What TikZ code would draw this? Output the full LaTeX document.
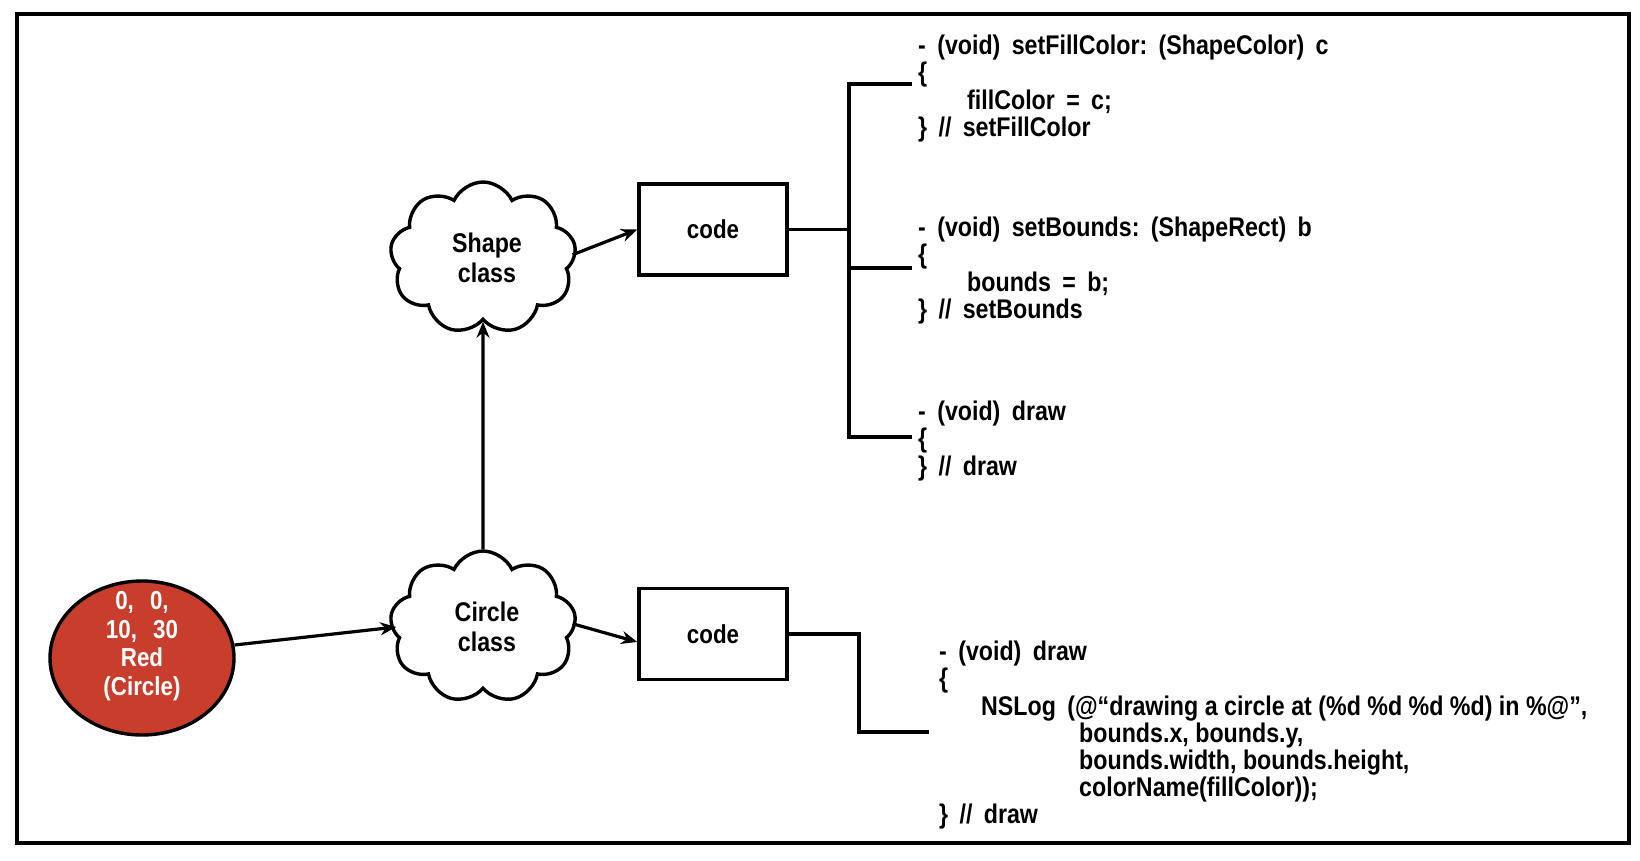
\documentclass[tikz,border=0pt]{standalone}
\usepackage{fontspec}
\setmainfont{Liberation Sans}[UprightFont=* Bold,FakeStretch=0.86]
\usetikzlibrary{shapes.symbols,shapes.geometric,arrows.meta}
\definecolor{circred}{HTML}{C83D2C}
\newcommand\gap{\hspace{0.42em}}
\newcommand\wgap{\hspace{0.62em}}
\begin{document}
\begin{tikzpicture}[x=1pt,y=-1pt,
  lw/.style={line width=3.2pt},
  arr/.style={lw,-{Stealth[length=16pt,width=13pt]}},
  cloudbox/.style={cloud, cloud puffs=9, cloud puff arc=130, aspect=1.2, draw, line width=3.4pt,
     minimum width=186pt, minimum height=152pt, inner sep=0pt, align=center,
     font=\fontsize{27}{30}\selectfont},
  codebox/.style={draw, line width=3.4pt, minimum width=148pt, minimum height=91pt, inner sep=0pt,
     font=\fontsize{26}{30}\selectfont},
  codetxt/.style={anchor=north west, inner sep=0pt, align=left, font=\fontsize{27}{27.2}\selectfont}]
\useasboundingbox (0,0) rectangle (1640,860);
\fill[white] (0,0) rectangle (1640,860);
\draw[line width=3.4pt] (17,14) rectangle (1629,843);

% nodes
\node[ellipse, draw, line width=3.4pt, fill=circred, minimum width=184pt, minimum height=154pt,
      inner sep=0pt] (red) at (142,658) {};
\node[text=white, inner sep=0pt, align=center, font=\fontsize{26}{28.5}\selectfont] (redtxt)
      at ([yshift=12pt]red.center) {0,\wgap 0,\\10,\wgap 30\\Red\\(Circle)};
\node[cloudbox] (scloud) at (483,258) {\hspace{8pt}Shape\\\hspace{8pt}class};
\node[cloudbox] (ccloud) at (483,627) {\hspace{8pt}Circle\\\hspace{8pt}class};
\node[codebox] (code1) at (713,229.5) {code};
\node[codebox] (code2) at (713,634) {code};

% connectors
\draw[arr] (red.8) -- ([xshift=6pt]ccloud.180);
\draw[arr] ([xshift=-4pt]ccloud.2) -- (code2.186);
\draw[arr] ([xshift=-4pt]scloud.2) -- (code1.west);
\draw[arr] (ccloud.90) -- (scloud.270);

% code blocks
\node[codetxt] (t1) at (918,35) {-\gap (void)\gap setFillColor:\gap (ShapeColor)\gap c\\
\{\\
\hspace{49pt}fillColor\gap =\gap c;\\
\}\gap //\gap setFillColor};
\node[codetxt] (t2) at (918,217) {-\gap (void)\gap setBounds:\gap (ShapeRect)\gap b\\
\{\\
\hspace{49pt}bounds\gap =\gap b;\\
\}\gap //\gap setBounds};
\node[codetxt] (t3) at (918,401) {-\gap (void)\gap draw\\
\{\\
\}\gap //\gap draw};
\node[codetxt] (t4) at (939,641) {-\gap (void)\gap draw\\
\{\\
\hspace{42pt}NSLog\gap (@“drawing a circle at (\%d \%d \%d \%d) in \%@”,\\
\hspace{140pt}bounds.x, bounds.y,\\
\hspace{140pt}bounds.width, bounds.height,\\
\hspace{140pt}colorName(fillColor));\\
\}\gap //\gap draw};

% bracket for code1
\coordinate (vt) at (849,84);
\coordinate (vb) at (849,437);
\coordinate (vm) at (849,268);
\coordinate (e1) at (912,84);
\coordinate (e2) at (912,268);
\coordinate (e3) at (912,437);
\draw[lw] (code1.east) -- (code1.east -| vt);
\draw[lw] (e1) -- (vt) -- (vb) -- (e3);
\draw[lw] (vm) -- (e2);

% connector for code2
\coordinate (k) at (859,636);
\coordinate (e4) at (929,732);
\draw[lw] (code2.east) -- (code2.east -| k) |- (e4);
\end{tikzpicture}
\end{document}
